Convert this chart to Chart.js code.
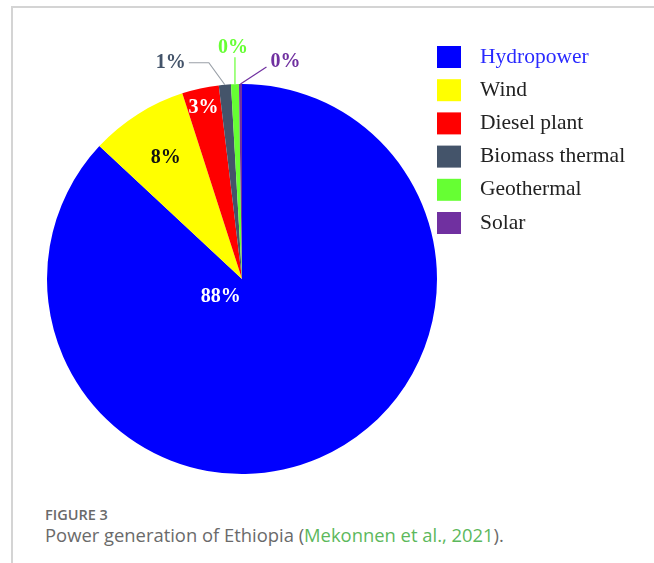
<!DOCTYPE html>
<html>
<head>
<meta charset="utf-8">
<script src="https://cdn.jsdelivr.net/npm/chart.js@4/dist/chart.umd.min.js"></script>
<style>
    html, body { margin: 0; padding: 0; background: #fff; }
    body { width: 654px; height: 563px; position: relative; overflow: hidden; }
    .frame { position: absolute; left: 11px; top: 6px; width: 660px; height: 600px; border-left: 2px solid #d4d4d4; border-top: 2px solid #d4d4d4; }
    .chart-box { position: absolute; left: 0; top: 0; width: 654px; height: 480px; }
    .caption { position: absolute; left: 45px; top: 505px; font-family: "Open Sans", sans-serif; color: #6a6a6a; }
    .caption .fig { font-size: 14.5px; font-weight: 600; line-height: 19px; }
    .caption .txt { font-size: 18.4px; line-height: 22px; }
    .caption a { color: #5cb85c; text-decoration: none; }
</style>
</head>
<body>
<div class="frame"></div>
<div class="chart-box"><canvas id="pie" width="654" height="480"></canvas></div>
<div class="caption">
    <div class="fig">FIGURE 3</div>
    <div class="txt">Power generation of Ethiopia (<a>Mekonnen et al., 2021</a>).</div>
</div>
<script>
const sources = ['Hydropower', 'Wind', 'Diesel plant', 'Biomass thermal', 'Geothermal', 'Solar'];
const shares = [86.9, 8.1, 3.05, 1.0, 0.65, 0.25];
const shareLabels = ['88%', '8%', '3%', '1%', '0%', '0%'];
const colors = ['#0000ff', '#ffff00', '#ff0000', '#44546a', '#66ff33', '#7030a0'];

const SERIF = '"Liberation Serif", "DejaVu Serif", serif';

// labels: inside slices or with a leader line
const labelPlugin = {
    id: 'sliceLabels',
    afterDatasetsDraw(chart) {
        const ctx = chart.ctx;
        const arcs = chart.getDatasetMeta(0).data;
        const textColors = ['#ffffff', '#111111', '#ffffff', '#44546a', '#66ff33', '#7030a0'];
        ctx.save();
        ctx.font = 'bold 20px ' + SERIF;
        ctx.textBaseline = 'middle';
        arcs.forEach(function (arc, i) {
            const mid = (arc.startAngle + arc.endAngle) / 2;
            if (i < 3) {
                const f = [0.1, 0.7, 0.9][i];
                const x = arc.x + Math.cos(mid) * arc.outerRadius * f;
                const y = arc.y + Math.sin(mid) * arc.outerRadius * f;
                ctx.fillStyle = textColors[i];
                ctx.textAlign = 'center';
                const off = [[-29, 0], [-3, -6], [-1, 0]][i];
                ctx.fillText(shareLabels[i], x + off[0], y + off[1]);
                return;
            }
            const ex = arc.x + Math.cos(mid) * arc.outerRadius;
            const ey = arc.y + Math.sin(mid) * arc.outerRadius;
            ctx.lineWidth = 1.2;
            ctx.beginPath();
            ctx.moveTo(ex, ey);
            if (i === 3) {
                ctx.strokeStyle = '#9aa0a8';
                ctx.lineTo(ex - 16, ey - 22);
                ctx.lineTo(ex - 36, ey - 22);
                ctx.stroke();
                ctx.fillStyle = textColors[i];
                ctx.textAlign = 'right';
                ctx.fillText(shareLabels[i], ex - 39, ey - 22);
            } else if (i === 4) {
                ctx.strokeStyle = textColors[i];
                ctx.lineTo(ex, ey - 27);
                ctx.stroke();
                ctx.fillStyle = textColors[i];
                ctx.textAlign = 'center';
                ctx.fillText(shareLabels[i], ex - 2, ey - 36);
            } else {
                ctx.strokeStyle = textColors[i];
                ctx.lineTo(ex + 26, ey - 17);
                ctx.stroke();
                ctx.fillStyle = textColors[i];
                ctx.textAlign = 'left';
                ctx.fillText(shareLabels[i], ex + 30, ey - 22);
            }
        });
        ctx.restore();
    }
};

// legend drawn at the right, one row per source
const legendPlugin = {
    id: 'sideLegend',
    afterDraw(chart) {
        const ctx = chart.ctx;
        ctx.save();
        ctx.font = '21.5px ' + SERIF;
        ctx.textBaseline = 'middle';
        ctx.textAlign = 'left';
        sources.forEach(function (name, i) {
            const y = 57 + i * 33.2;
            ctx.fillStyle = colors[i];
            ctx.fillRect(437, y - 11, 24, 22);
            ctx.fillStyle = i === 0 ? '#2a2aff' : '#222222';
            ctx.fillText(name, 480, y);
        });
        ctx.restore();
    }
};

new Chart(document.getElementById('pie'), {
    type: 'pie',
    data: {
        labels: sources,
        datasets: [{ data: shares, backgroundColor: colors, borderWidth: 0 }]
    },
    options: {
        responsive: false,
        animation: false,
        layout: { padding: { left: 47, right: 217, top: 84, bottom: 6 } },
        plugins: { legend: { display: false }, tooltip: { enabled: false } }
    },
    plugins: [labelPlugin, legendPlugin]
});
</script>
</body>
</html>
